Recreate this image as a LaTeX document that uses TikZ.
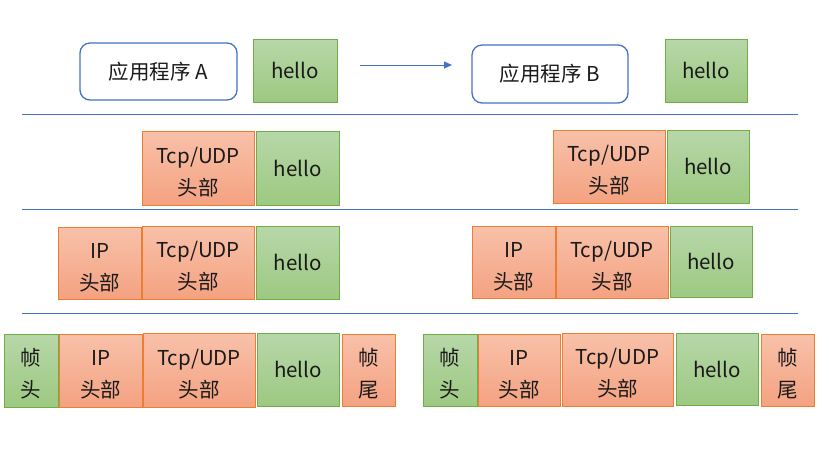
\documentclass[tikz,border=0pt]{standalone}
\usepackage{fontspec}
\setmainfont{Noto Sans CJK SC}
\usetikzlibrary{arrows.meta}
\definecolor{bl}{HTML}{4472C4}
\definecolor{orb}{HTML}{ED7D31}
\definecolor{ort}{HTML}{F8C1A9}
\definecolor{orm}{HTML}{F4A281}
\definecolor{grb}{HTML}{70AD47}
\definecolor{grt}{HTML}{B7D7A9}
\definecolor{grm}{HTML}{9DC981}
\definecolor{txt}{HTML}{1A1A1A}
% two-line text, lowered by #1 (depth reduced by 2*#1)
\newcommand\dn[2]{\raisebox{0pt}[\height][\dimexpr\depth-2\dimexpr#1\relax\relax]{\begin{tabular}{@{}c@{}}#2\end{tabular}}}
\tikzset{
  base/.style={inner sep=0pt, font=\fontsize{20.5}{32}\selectfont, text=txt, line width=0.8pt},
  obox/.style={base, draw=orb, top color=ort, bottom color=orm},
  gbox/.style={base, draw=grb, top color=grt, bottom color=grm},
  abox/.style={base, draw=bl, line width=1.3pt, rounded corners=10pt, fill=white},
  sep/.style={draw=bl, line width=0.8pt},
}
\begin{document}
\begin{tikzpicture}[x=1pt,y=-1pt]
\useasboundingbox (0,0) rectangle (829,451);
% top row
\node[abox, minimum width=157pt, minimum height=57pt] (appA) at (158.5,71.5) {应用程序 A};
\node[gbox, minimum width=84pt, minimum height=63pt] (hA) at (295,70.5) {hello};
\node[abox, minimum width=156pt, minimum height=58pt] (appB) at (550,74) {应用程序 B};
\node[gbox, minimum width=82pt, minimum height=63pt] (hB) at (706,70.5) {hello};
\coordinate (a1) at (360,65);
\coordinate (a2) at (452,65);
\draw[draw=bl, line width=1pt, -{Triangle[length=8pt,width=7pt]}] (a1) -- (a2);
% separators
\coordinate (l1a) at (22,114); \coordinate (l1b) at (798,114);
\coordinate (l2a) at (22,209); \coordinate (l2b) at (798,209);
\coordinate (l3a) at (22,313); \coordinate (l3b) at (798,313);
\draw[sep] (l1a) -- (l1b);
\draw[sep] (l2a) -- (l2b);
\draw[sep] (l3a) -- (l3b);
% row 2
\node[obox, minimum width=112pt, minimum height=74pt] (t2L) at (198,168) {\dn{5pt}{Tcp/UDP\\头部}};
\node[gbox, minimum width=83pt, minimum height=74pt] (h2L) at (297.5,168) {hello};
\node[obox, minimum width=112pt, minimum height=73pt] (t2R) at (609,166.5) {\dn{5pt}{Tcp/UDP\\头部}};
\node[gbox, minimum width=82pt, minimum height=73pt] (h2R) at (708,166.5) {hello};
% row 3
\node[obox, minimum width=83pt, minimum height=72pt] (i3L) at (99.5,263) {\dn{5pt}{IP\\头部}};
\node[obox, minimum width=112pt, minimum height=73pt] (t3L) at (198,262.5) {\dn{5pt}{Tcp/UDP\\头部}};
\node[gbox, minimum width=83pt, minimum height=73pt] (h3L) at (297.5,262.5) {hello};
\node[obox, minimum width=83pt, minimum height=72pt] (i3R) at (513.5,262) {\dn{5pt}{IP\\头部}};
\node[obox, minimum width=112pt, minimum height=72pt] (t3R) at (612,262) {\dn{5pt}{Tcp/UDP\\头部}};
\node[gbox, minimum width=82pt, minimum height=71pt] (h3R) at (711,261.5) {hello};
% row 4
\node[gbox, minimum width=54pt, minimum height=73pt] (f4L) at (31,370.5) {\dn{5pt}{帧\\头}};
\node[obox, minimum width=83pt, minimum height=73pt] (i4L) at (100.5,370.5) {\dn{5pt}{IP\\头部}};
\node[obox, minimum width=112pt, minimum height=74pt] (t4L) at (199,370) {\dn{5pt}{Tcp/UDP\\头部}};
\node[gbox, minimum width=82pt, minimum height=73pt] (h4L) at (298,369.5) {hello};
\node[obox, minimum width=53pt, minimum height=72pt] (e4L) at (368.5,370) {\dn{5pt}{帧\\尾}};
\node[gbox, minimum width=54pt, minimum height=72pt] (f4R) at (450,370) {\dn{5pt}{帧\\头}};
\node[obox, minimum width=82pt, minimum height=72pt] (i4R) at (519,370) {\dn{5pt}{IP\\头部}};
\node[obox, minimum width=111pt, minimum height=73pt] (t4R) at (617.5,369.5) {\dn{5pt}{Tcp/UDP\\头部}};
\node[gbox, minimum width=82pt, minimum height=72pt] (h4R) at (717,369) {hello};
\node[obox, minimum width=53pt, minimum height=72pt] (e4R) at (787.5,370) {\dn{5pt}{帧\\尾}};
\end{tikzpicture}
\end{document}
